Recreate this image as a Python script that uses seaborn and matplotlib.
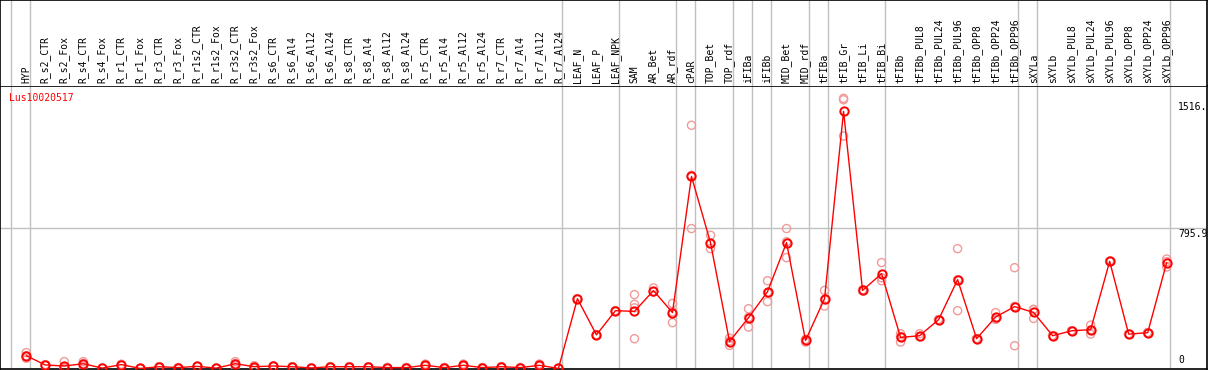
import numpy as np
import pandas as pd
import matplotlib
matplotlib.use("Agg")
import matplotlib.pyplot as plt
import seaborn as sns

# sample names along the x axis
samples = ["HYP",
           "R_s2_CTR", "R_s2_Fox", "R_s4_CTR", "R_s4_Fox", "R_r1_CTR", "R_r1_Fox",
           "R_r3_CTR", "R_r3_Fox", "R_r1s2_CTR", "R_r1s2_Fox", "R_r3s2_CTR", "R_r3s2_Fox",
           "R_s6_CTR", "R_s6_Al4", "R_s6_Al12", "R_s6_Al24",
           "R_s8_CTR", "R_s8_Al4", "R_s8_Al12", "R_s8_Al24",
           "R_r5_CTR", "R_r5_Al4", "R_r5_Al12", "R_r5_Al24",
           "R_r7_CTR", "R_r7_Al4", "R_r7_Al12", "R_r7_Al24",
           "LEAF_N", "LEAF_P", "LEAF_NPK", "SAM", "AR_Bet", "AR_rdf", "cPAR",
           "TOP_Bet", "TOP_rdf", "iFIBa", "iFIBb", "MID_Bet", "MID_rdf", "tFIBa",
           "tFIB_Gr", "tFIB_Li", "tFIB_Bi", "tFIBb",
           "tFIBb_PUL8", "tFIBb_PUL24", "tFIBb_PUL96", "tFIBb_OPP8", "tFIBb_OPP24", "tFIBb_OPP96",
           "sXYLa", "sXYLb",
           "sXYLb_PUL8", "sXYLb_PUL24", "sXYLb_PUL96", "sXYLb_OPP8", "sXYLb_OPP24", "sXYLb_OPP96"]

# mean expression per sample
means = [73, 20, 14, 27, 2, 22, 0, 10, 5, 12, 2, 27, 10, 14, 10, 3, 10, 10, 10, 5,
         5, 18, 5, 18, 5, 10, 5, 18, 0,
         396, 191, 328, 324, 442, 317, 1090, 714, 153, 288, 436, 714, 159, 396,
         1459, 443, 538, 176, 186, 277, 504, 169, 292, 351,
         318, 186, 214, 220, 608, 195, 203, 601]

# replicate values per sample
reps = [[90, 58, 72], [20, 18, 22], [39, 2, 2], [39, 14, 28], [2, 2, 2], [22, 20, 24],
        [0, 0, 0], [10, 10, 10], [5, 5, 5], [12, 12, 12], [2, 2, 2], [39, 14, 28],
        [0, 15, 15], [14, 14, 14], [10, 10, 10], [3, 3, 3], [10, 10, 10], [10, 10, 10],
        [10, 10, 10], [5, 5, 5], [5, 5, 5], [25, 12, 18], [5, 5, 5], [25, 12, 18],
        [5, 5, 5], [10, 10, 10], [5, 5, 5], [25, 12, 18], [0, 0, 0],
        [396, 396, 396], [191, 191, 191], [328, 328, 328], [419, 364, 344, 169],
        [457, 435, 434], [369, 260, 322], [1380, 794, 1096], [756, 680, 706],
        [172, 131, 156], [339, 235, 290], [498, 379, 431], [794, 629, 719],
        [165, 150, 162], [443, 354, 391], [1533, 1319, 1525], [446, 440, 443],
        [601, 498, 515], [197, 150, 181], [197, 180, 181], [277, 277, 277],
        [680, 328, 504], [169, 169, 169], [317, 279, 280], [572, 129, 352],
        [335, 284, 335], [186, 186, 186], [214, 214, 214], [246, 195, 219],
        [608, 608, 608], [195, 195, 195], [203, 203, 203], [621, 576, 606]]

# last sample of each group (-1 = left edge)
group_ends = [-1, 0, 28, 31, 34, 35, 37, 38, 39, 41, 42, 45, 52, 53, 60]

gene = "Lus10020517"
ytick_vals = [0, 795.9, 1516]
ytick_text = ["0", "795.9", "1516."]

df_mean = pd.DataFrame({"pos": np.arange(len(samples)), "expr": means})
df_rep = pd.DataFrame([(i, v) for i, vals in enumerate(reps) for v in vals],
                      columns=["pos", "expr"])

sns.set_style("white")
plt.rcParams["font.family"] = ["DejaVu Sans Mono"]

W, H = 1209, 370
fig = plt.figure(figsize=(W / 100, H / 100), dpi=100)

xlim = ((0.5 - 26.7) / 19, (1207 - 26.7) / 19)
ax = fig.add_axes([0, 1 / H, 1207 / W, 283 / H])
head = fig.add_axes([0, 284 / H, 1207 / W, 86 / H - 0.5 / H])

grey = "#c0c0c0"
for a in (ax, head):
    a.set_xlim(*xlim)
    for g in group_ends:
        a.axvline(g + 0.2, color=grey, lw=1.0, zorder=0)
    a.set_xticks([])
    a.set_yticks([])
    for s in a.spines.values():
        s.set_color("black")
        s.set_linewidth(1.2)
head.spines["bottom"].set_visible(False)
head.set_ylim(0, 1)

# rotated sample labels
for i, name in enumerate(samples):
    head.text(i, 3 / 86, name, rotation=90, ha="center", va="bottom",
              fontsize=7, color="black")

ax.set_ylim(-3, 1603)
ax.axhline(795.9, color=grey, lw=1.0, zorder=0)

sns.scatterplot(data=df_rep, x="pos", y="expr", ax=ax, marker="o", s=34,
                facecolor="none", edgecolor="#f09a9a", linewidth=1.0, zorder=3)
sns.lineplot(data=df_mean, x="pos", y="expr", ax=ax, color="red", lw=1.0,
             marker="o", markersize=6, markerfacecolor="none",
             markeredgecolor="red", markeredgewidth=1.4, zorder=4)
ax.set_xlabel("")
ax.set_ylabel("")

ax.text(9.5 / 1207, 1 - 7 / 283, gene, transform=ax.transAxes, color="red",
        fontsize=7, ha="left", va="top")

# y values written inside the right edge
for v, t in zip(ytick_vals, ytick_text):
    va = "bottom" if v == 0 else "top"
    yy = v + (3 * 5.685 if v == 0 else -1 * 5.685)
    ax.text((1178 - 26.7) / 19, yy, t, fontsize=7, ha="left", va=va, color="black")

fig.savefig("out.png", dpi=100)
